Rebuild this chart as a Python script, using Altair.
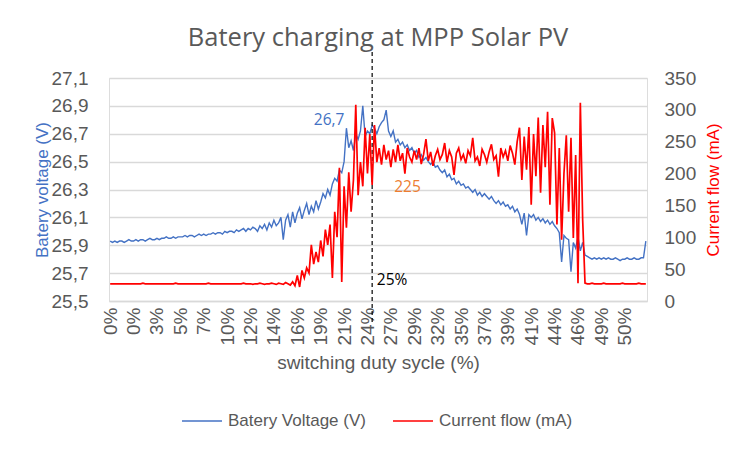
import altair as alt
import pandas as pd

# ---------------- data ----------------
x_labels = ["0%", "0%", "3%", "5%", "7%", "10%", "12%", "14%", "16%", "19%", "21%", "24%",
            "27%", "29%", "32%", "35%", "37%", "39%", "41%", "44%", "46%", "49%", "50%"]

voltage = [
    25.93, 25.92, 25.93, 25.92, 25.93, 25.93, 25.92, 25.93, 25.94, 25.93,
    25.93, 25.94, 25.93, 25.94, 25.94, 25.93, 25.94, 25.95, 25.94, 25.94,
    25.95, 25.94, 25.95, 25.95, 25.96, 25.95, 25.95, 25.96, 25.95, 25.96,
    25.96, 25.96, 25.97, 25.96, 25.97, 25.97, 25.96, 25.97, 25.98, 25.97,
    25.98, 25.97, 25.98, 25.98, 25.99, 25.98, 25.99, 25.99, 25.98, 26.00,
    25.99, 26.00, 26.00, 25.99, 26.01, 26.00, 26.01, 26.02, 26.00, 26.02,
    26.01, 26.03, 26.02, 26.00, 26.04, 26.02, 26.05, 26.01, 26.06, 26.03,
    26.08, 26.04, 26.06, 26.10, 25.94, 26.08, 26.12, 26.03, 26.14, 26.06,
    26.13, 26.17, 26.09, 26.15, 26.20, 26.12, 26.18, 26.14, 26.22, 26.16,
    26.21, 26.27, 26.24, 26.30, 26.26, 26.34, 26.38, 26.36, 26.44, 26.42,
    26.50, 26.74, 26.60, 26.65, 26.58, 26.70, 26.66, 26.72, 26.90, 26.68,
    26.72, 26.70, 26.76, 26.74, 26.70, 26.75, 26.78, 26.80, 26.87, 26.72,
    26.68, 26.72, 26.64, 26.66, 26.62, 26.64, 26.60, 26.62, 26.58, 26.60,
    26.56, 26.58, 26.53, 26.55, 26.51, 26.53, 26.50, 26.48, 26.50, 26.46,
    26.47, 26.44, 26.42, 26.44, 26.39, 26.41, 26.37, 26.38, 26.34, 26.36,
    26.33, 26.34, 26.31, 26.32, 26.30, 26.28, 26.30, 26.26, 26.28, 26.25,
    26.27, 26.25, 26.23, 26.25, 26.22, 26.20, 26.22, 26.19, 26.21, 26.18,
    26.19, 26.16, 26.18, 26.14, 26.16, 26.12, 26.05, 26.13, 25.97, 26.12,
    26.10, 26.12, 26.08, 26.10, 26.07, 26.09, 26.06, 26.08, 26.05, 26.07,
    26.04, 26.02, 25.99, 25.78, 25.97, 25.95, 25.94, 25.71, 25.92, 25.88,
    25.96, 25.86, 25.92, 25.83, 25.82, 25.81, 25.80, 25.81, 25.80, 25.81,
    25.80, 25.81, 25.80, 25.81, 25.80, 25.80, 25.81, 25.80, 25.79, 25.80,
    25.80, 25.81, 25.80, 25.80, 25.81, 25.80, 25.80, 25.81, 25.81, 25.93,
]

current = [
    27, 27, 27, 27, 27, 27, 27, 27, 27, 27,
    27, 27, 27, 27, 28, 27, 27, 27, 27, 27,
    27, 27, 27, 27, 27, 27, 27, 27, 28, 27,
    27, 27, 27, 27, 27, 27, 27, 27, 27, 27,
    27, 27, 28, 27, 27, 27, 27, 27, 27, 27,
    27, 27, 27, 27, 27, 27, 27, 28, 27, 27,
    27, 26, 27, 27, 28, 27, 26, 27, 27, 28,
    27, 26, 28, 27, 26, 29, 27, 25, 30, 24,
    40, 22, 48, 36, 52, 44, 88, 58, 77, 61,
    95, 70, 112, 88, 120, 36, 140, 100, 209, 30,
    180, 115, 202, 140, 190, 308, 166, 218, 180, 272,
    200, 262, 182, 276, 218, 240, 214, 245, 222, 236,
    210, 238, 218, 245, 220, 232, 200, 240, 226, 218,
    236, 222, 240, 215, 230, 254, 220, 234, 212, 228,
    238, 222, 230, 248, 218, 236, 226, 198, 232, 240,
    222, 230, 216, 236, 228, 256, 220, 226, 212, 238,
    230, 218, 234, 246, 222, 228, 195, 240, 226, 236,
    220, 244, 232, 214, 250, 272, 190, 258, 206, 273,
    151, 262, 196, 288, 170, 276, 210, 297, 151, 287,
    264, 120, 240, 96, 200, 260, 140, 256, 99, 229,
    28, 311, 127, 28, 27, 27, 28, 27, 27, 27,
    27, 28, 27, 27, 27, 27, 27, 27, 27, 28,
    27, 27, 27, 27, 27, 27, 28, 27, 27, 27,
]

series_names = ["Batery Voltage (V)", "Current flow (mA)"]
series_colors = ["#4472C4", "#FF0000"]

v_ticks = [25.5, 25.7, 25.9, 26.1, 26.3, 26.5, 26.7, 26.9, 27.1]
c_ticks = [0, 50, 100, 150, 200, 250, 300, 350]

marker_index = [112]          # the 25 % duty-cycle marker
v_notes_i = [93.6]
v_notes_v = [26.80]
v_notes_t = ["26,7"]
p_notes_i = [120.5]
p_notes_v = [25.65]
p_notes_t = ["25%"]
c_notes_i = [127.1]
c_notes_c = [179.0]
c_notes_t = ["225"]

# ---------------- chart ----------------
assert len(voltage) == len(current)
n = len(voltage)
step = 10
idx = list(range(n))
df_v = pd.DataFrame({"i": idx, "v": voltage, "s": [series_names[0]] * n})
df_c = pd.DataFrame({"i": idx, "c": current, "s": [series_names[1]] * n})

FONT = "Open Sans"
GREY = "#595959"
GRID = "#D9D9D9"
TICK_FS = 19

label_expr = "[" + ",".join("'%s'" % s for s in x_labels) + "][round(datum.value/%d)]" % step
x_enc = alt.X(
    "i:Q",
    scale=alt.Scale(domain=[-0.5, n - 0.5], nice=False, zero=False),
    axis=alt.Axis(
        values=[k * step for k in range(len(x_labels))],
        labelExpr=label_expr,
        labelAngle=270,
        labelFontSize=TICK_FS,
        labelColor=GREY,
        labelPadding=6,
        ticks=False,
        grid=False,
        domainColor=GRID,
        domainWidth=1.3,
        title="switching duty sycle (%)",
        titleFontSize=19,
        titleColor=GREY,
        titleFontWeight="normal",
        titlePadding=8,
    ),
)

y_v = alt.Y(
    "v:Q",
    scale=alt.Scale(domain=[25.5, 27.1], nice=False, zero=False),
    axis=alt.Axis(
        orient="left",
        values=v_ticks,
        labelExpr="replace(format(datum.value, '.1f'), '.', ',')",
        labelFontSize=TICK_FS,
        labelColor=GREY,
        labelPadding=21,
        ticks=False,
        domain=False,
        grid=True,
        gridColor=GRID,
        gridWidth=1.3,
        title="Batery voltage (V)",
        titleFontSize=17,
        titleColor="#4472C4",
        titleFontWeight="normal",
        titlePadding=0,
    ),
)

y_c = alt.Y(
    "c:Q",
    scale=alt.Scale(domain=[0, 350], nice=False, zero=True),
    axis=alt.Axis(
        orient="right",
        values=c_ticks,
        labelFontSize=TICK_FS,
        labelColor=GREY,
        labelPadding=17,
        ticks=False,
        domain=False,
        grid=False,
        title="Current flow (mA)",
        titleFontSize=17,
        titleColor="#FF0000",
        titleFontWeight="normal",
        titleAngle=270,
        titleBaseline="top",
        titlePadding=10,
    ),
)

color_scale = alt.Scale(domain=series_names, range=series_colors)
legend = alt.Legend(
    orient="none",
    legendX=72,
    legendY=322,
    direction="horizontal",
    title=None,
    symbolType="stroke",
    symbolSize=1600,
    symbolStrokeWidth=1.5,
    labelFontSize=17,
    labelColor=GREY,
    labelOffset=5,
    columnPadding=24,
    padding=0,
)
color_enc = alt.Color("s:N", scale=color_scale, legend=legend)

v_line = alt.Chart(df_v).mark_line(strokeWidth=1.4).encode(x=x_enc, y=y_v, color=color_enc)
c_line = alt.Chart(df_c).mark_line(strokeWidth=1.7).encode(x=x_enc, y=y_c, color=color_enc)

v_note = alt.Chart(pd.DataFrame({"i": v_notes_i, "v": v_notes_v, "t": v_notes_t})).mark_text(
    fontSize=15.5, color="#4472C4", font=FONT
).encode(x=x_enc, y=y_v, text="t:N")
p_note = alt.Chart(pd.DataFrame({"i": p_notes_i, "v": p_notes_v, "t": p_notes_t})).mark_text(
    fontSize=15.5, color="#000000", font=FONT
).encode(x=x_enc, y=y_v, text="t:N")
c_note = alt.Chart(pd.DataFrame({"i": c_notes_i, "c": c_notes_c, "t": c_notes_t})).mark_text(
    fontSize=15.5, color="#ED7D31", font=FONT
).encode(x=x_enc, y=y_c, text="t:N")

marker = alt.Chart(pd.DataFrame({"i": marker_index})).mark_rule(
    color="#000000", strokeWidth=1.2, strokeDash=[4, 3]
).encode(x=x_enc, y=alt.value(-26), y2=alt.value(244))

left_group = alt.layer(v_line, v_note, p_note, marker)
right_group = alt.layer(c_line, c_note)

chart = (
    alt.layer(left_group, right_group)
    .resolve_scale(y="independent")
    .properties(
        width=538,
        height=223,
        autosize="none",
        padding={"left": 101, "top": 70, "right": 97, "bottom": 143},
        title=alt.TitleParams(
            "Batery charging at MPP Solar PV",
            fontSize=25.5,
            font=FONT,
            color=GREY,
            fontWeight="normal",
            anchor="middle",
            frame="group",
            offset=0,
        ),
    )
    .configure_view(strokeWidth=0)
    .configure_axis(labelFont=FONT, titleFont=FONT)
    .configure_legend(labelFont=FONT)
    .configure(background="#FFFFFF")
)

chart.save("out.html", embed_options={"renderer": "svg", "actions": False})
